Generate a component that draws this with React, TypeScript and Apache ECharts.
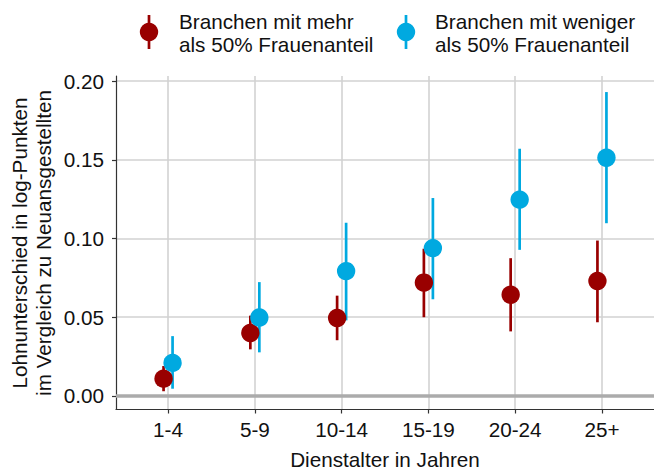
import React, { useEffect, useRef } from "react";
import * as echarts from "echarts";

const categories = ["1-4", "5-9", "10-14", "15-19", "20-24", "25+"];
const yTicks = [0, 0.05, 0.1, 0.15, 0.2];

const seriesNames = ["Branchen mit mehr\nals 50% Frauenanteil", "Branchen mit weniger\nals 50% Frauenanteil"];

const moreEst = [0.011, 0.040, 0.0495, 0.072, 0.0643, 0.073];
const moreLow = [0.003, 0.0296, 0.0354, 0.050, 0.041, 0.0468];
const moreHigh = [0.019, 0.051, 0.0637, 0.0935, 0.0875, 0.0987];

const lessEst = [0.021, 0.0498, 0.0793, 0.0939, 0.1247, 0.1513];
const lessLow = [0.0046, 0.0277, 0.048, 0.0614, 0.0928, 0.1097];
const lessHigh = [0.038, 0.0723, 0.110, 0.1257, 0.157, 0.193];

const RED = "#990000";
const BLUE = "#00A9E0";
const FONT = "'Liberation Sans', Arial, sans-serif";
const FS = 20.7;

export default function App() {
  const ref = useRef<HTMLDivElement>(null);

  useEffect(() => {
    document.body.style.margin = "0";
    if (!ref.current) return;
    const chart = echarts.init(ref.current, undefined, { renderer: "svg" });

    const build = (est: number[], lo: number[], hi: number[]) =>
      est.map((v, i) => [i + 1, v, lo[i], hi[i]]);
    const moreData = build(moreEst, moreLow, moreHigh);
    const lessData = build(lessEst, lessLow, lessHigh);

    const lineSeries = (data: number[][], color: string, offset: number, withZero: boolean) => ({
      type: "custom",
      data,
      silent: true,
      z: 3,
      renderItem: (params: any, api: any) => {
        const x = api.value(0);
        const lo = api.coord([x, api.value(2)]);
        const hi = api.coord([x, api.value(3)]);
        const px = lo[0] + offset;
        return {
          type: "line",
          shape: { x1: px, y1: lo[1], x2: px, y2: hi[1] },
          style: { stroke: color, lineWidth: 2.7 },
        };
      },
      markLine: withZero
        ? {
            silent: true,
            symbol: "none",
            label: { show: false },
            lineStyle: { color: "#ababab", width: 3.5, type: "solid" },
            data: [{ yAxis: 0 }],
          }
        : undefined,
    });

    const pointSeries = (data: number[][], color: string, offset: number) => ({
      type: "custom",
      data,
      silent: true,
      z: 4,
      renderItem: (params: any, api: any) => {
        const c = api.coord([api.value(0), api.value(1)]);
        return {
          type: "circle",
          shape: { cx: c[0] + offset, cy: c[1], r: 9.2 },
          style: { fill: color },
        };
      },
    });

    const textStyle = { fontFamily: FONT, fontSize: FS, fill: "#111" };

    chart.setOption({
      animation: false,
      textStyle: { fontFamily: FONT },
      grid: { left: 116, right: 0, top: 76, bottom: 60.5, containLabel: false },
      xAxis: {
        type: "value",
        min: 0.4,
        max: 6.6,
        axisLine: { show: true, onZero: false, lineStyle: { color: "#333", width: 1.2 } },
        axisTick: { show: true, length: 4, customValues: [1, 2, 3, 4, 5, 6], lineStyle: { color: "#333", width: 1.2 } },
        axisLabel: {
          customValues: [1, 2, 3, 4, 5, 6],
          formatter: (v: number) => categories[Math.round(v) - 1] ?? "",
          color: "#111",
          fontSize: FS,
          fontFamily: FONT,
          margin: 9,
        },
        splitLine: { show: true, lineStyle: { color: "#d2d2d2", width: 1.6 } },
      },
      yAxis: {
        type: "value",
        min: -0.0086,
        max: 0.2032,
        axisLine: { show: true, onZero: false, lineStyle: { color: "#333", width: 1.2 } },
        axisTick: { show: true, length: 4, customValues: yTicks, lineStyle: { color: "#333", width: 1.2 } },
        axisLabel: {
          customValues: yTicks,
          formatter: (v: number) => v.toFixed(2),
          color: "#111",
          fontSize: FS,
          fontFamily: FONT,
          margin: 12,
        },
        splitLine: { show: true, lineStyle: { color: "#d2d2d2", width: 1.6 } },
      },
      series: [
        lineSeries(moreData, RED, -4.5, true),
        lineSeries(lessData, BLUE, 4.5, false),
        pointSeries(moreData, RED, -4.5),
        pointSeries(lessData, BLUE, 4.5),
      ],
      graphic: [
        {
          type: "text",
          x: 385,
          y: 459.5,
          style: { ...textStyle, text: "Dienstalter in Jahren", align: "center", verticalAlign: "middle" },
        },
        {
          type: "text",
          x: 31.5,
          y: 243,
          rotation: Math.PI / 2,
          style: {
            ...textStyle,
            text: "Lohnunterschied in log-Punkten\nim Vergleich zu Neuansgestellten",
            align: "center",
            verticalAlign: "middle",
            lineHeight: 23.4,
          },
        },
        { type: "line", shape: { x1: 149, y1: 15, x2: 149, y2: 49 }, style: { stroke: RED, lineWidth: 2.7 } },
        { type: "circle", shape: { cx: 149, cy: 32, r: 9.2 }, style: { fill: RED } },
        {
          type: "text",
          x: 179,
          y: 33.1,
          style: { ...textStyle, text: seriesNames[0], align: "left", verticalAlign: "middle", lineHeight: 23.4 },
        },
        { type: "line", shape: { x1: 406, y1: 15, x2: 406, y2: 49 }, style: { stroke: BLUE, lineWidth: 2.7 } },
        { type: "circle", shape: { cx: 406, cy: 32, r: 9.2 }, style: { fill: BLUE } },
        {
          type: "text",
          x: 435,
          y: 33.1,
          style: { ...textStyle, text: seriesNames[1], align: "left", verticalAlign: "middle", lineHeight: 23.4 },
        },
      ],
    });

    return () => chart.dispose();
  }, []);

  return <div ref={ref} style={{ width: 654, height: 470 }} />;
}
